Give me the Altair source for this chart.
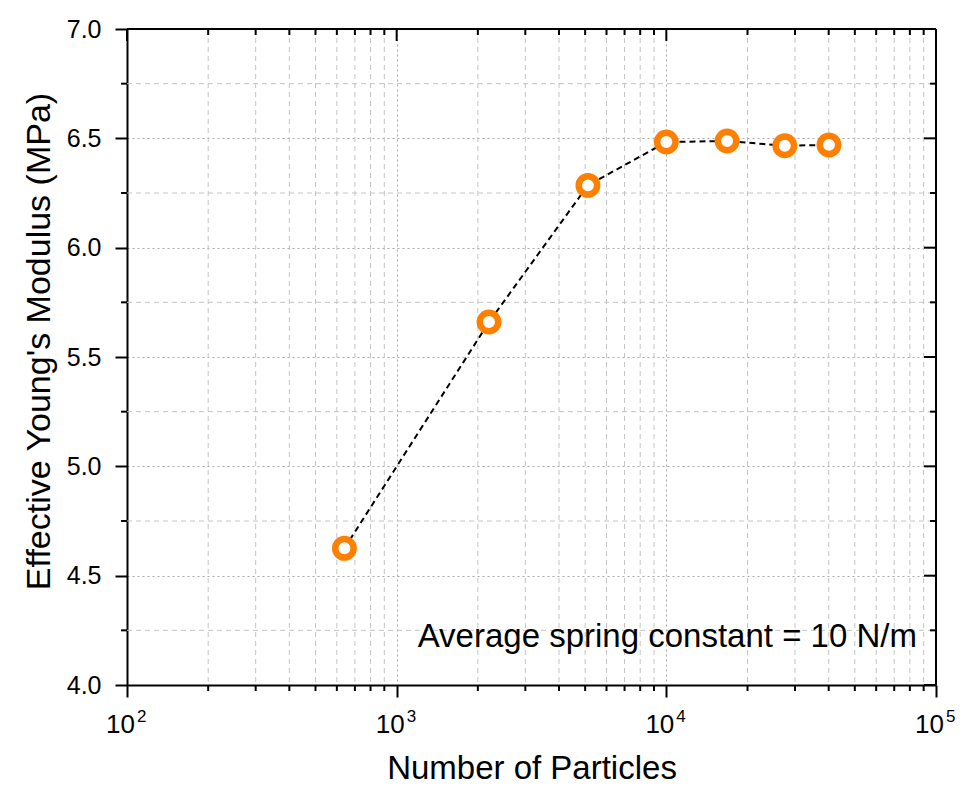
import altair as alt
import pandas as pd

# data
particles = [640, 2200, 5120, 10000, 16800, 27500, 40100]
modulus = [4.625, 5.66, 6.285, 6.483, 6.488, 6.466, 6.470]

x_major = [100, 1000, 10000, 100000]
x_major_base = ["10", "10", "10", "10"]
x_major_exp = ["2", "3", "4", "5"]
x_minor = [m * 10 ** e for e in (2, 3, 4) for m in range(2, 10)]
y_major = [4.0, 4.5, 5.0, 5.5, 6.0, 6.5, 7.0]
y_minor = [4.25, 4.75, 5.25, 5.75, 6.25, 6.75]

annot_text = ["Average spring constant = 10 N/m"]
annot_x = [85000]
annot_y = [4.22]

W, H = 809, 656
FONT = "Liberation Sans"

df = pd.DataFrame({"x": particles, "y": modulus})
dxmin = pd.DataFrame({"x": x_minor})
dxmaj = pd.DataFrame({"x": x_major, "b": x_major_base, "e": x_major_exp})
dymin = pd.DataFrame({"y": y_minor})
dymaj = pd.DataFrame({"y": y_major})
dann = pd.DataFrame({"t": annot_text, "x": annot_x, "y": annot_y})

xscale = alt.Scale(type="log", domain=[100, 100000], nice=False)
yscale = alt.Scale(domain=[4.0, 7.0], nice=False, zero=False)

xaxis = alt.Axis(values=x_major, labels=False, title="Number of Particles",
                 grid=True, gridDash=[2, 3], gridColor="#a8a8a8", gridWidth=1,
                 tickSize=12, tickWidth=2, tickColor="black",
                 domainColor="black", domainWidth=2,
                 titleFont=FONT, titleFontSize=33, titleFontWeight="normal",
                 titleColor="black", titlePadding=54)
yaxis = alt.Axis(values=y_major, format=".1f", title="Effective Young's Modulus (MPa)",
                 grid=True, gridDash=[2, 3], gridColor="#a8a8a8", gridWidth=1,
                 tickSize=12, tickWidth=2, tickColor="black",
                 domainColor="black", domainWidth=2,
                 labelFont=FONT, labelFontSize=25, labelColor="black", labelPadding=14,
                 titleFont=FONT, titleFontSize=34, titleFontWeight="normal",
                 titleColor="black", titlePadding=10, titleY=312)

X = lambda: alt.X("x:Q", scale=xscale, axis=xaxis)
Y = lambda: alt.Y("y:Q", scale=yscale, axis=yaxis)

minor_v = alt.Chart(dxmin).mark_rule(color="#c4c4c4", strokeDash=[5, 4], strokeWidth=1).encode(
    x=X(), y=alt.value(0), y2=alt.value(H))
minor_h = alt.Chart(dymin).mark_rule(color="#c4c4c4", strokeDash=[5, 4], strokeWidth=1).encode(
    y=Y(), x=alt.value(0), x2=alt.value(W))

# minor ticks outward on bottom/left
bt_minor = alt.Chart(dxmin).mark_rule(color="black", strokeWidth=2).encode(
    x=X(), y=alt.value(H), y2=alt.value(H + 6))
lt_minor = alt.Chart(dymin).mark_rule(color="black", strokeWidth=2).encode(
    y=Y(), x=alt.value(-6), x2=alt.value(0))

# frame top/right with inward ticks
top_line = alt.Chart(dxmaj).mark_rule(color="black", strokeWidth=2).encode(
    x=alt.value(0), x2=alt.value(W), y=alt.value(0))
right_line = alt.Chart(dymaj).mark_rule(color="black", strokeWidth=2).encode(
    y=alt.value(0), y2=alt.value(H), x=alt.value(W))
top_major = alt.Chart(dxmaj).mark_rule(color="black", strokeWidth=2).encode(
    x=X(), y=alt.value(0), y2=alt.value(12))
top_minor = alt.Chart(dxmin).mark_rule(color="black", strokeWidth=2).encode(
    x=X(), y=alt.value(0), y2=alt.value(6))
right_major = alt.Chart(dymaj).mark_rule(color="black", strokeWidth=2).encode(
    y=Y(), x=alt.value(W - 12), x2=alt.value(W))
right_minor = alt.Chart(dymin).mark_rule(color="black", strokeWidth=2).encode(
    y=Y(), x=alt.value(W - 6), x2=alt.value(W))

# x tick labels with real superscripts
xl_base = alt.Chart(dxmaj).mark_text(font=FONT, fontSize=26, align="right", baseline="alphabetic",
                                     dx=8, color="black").encode(
    x=X(), y=alt.value(H + 48), text="b:N")
xl_exp = alt.Chart(dxmaj).mark_text(font=FONT, fontSize=17, align="left", baseline="alphabetic",
                                    dx=10, color="black").encode(
    x=X(), y=alt.value(H + 37), text="e:N")

line = alt.Chart(df).mark_line(color="black", strokeDash=[6, 4], strokeWidth=2).encode(
    x=X(), y=Y())
points = alt.Chart(df).mark_point(shape="circle", filled=False, fill="white", fillOpacity=1,
                                  stroke="#FF8000", strokeWidth=6.5, size=340, opacity=1).encode(
    x=X(), y=Y())

annot = alt.Chart(dann).mark_text(font=FONT, fontSize=33, align="right", baseline="middle",
                                  color="black").encode(
    x=X(), y=Y(), text="t:N")

chart = alt.layer(minor_v, minor_h, bt_minor, lt_minor, top_minor, top_major,
                  right_minor, right_major, top_line, right_line, xl_base, xl_exp,
                  line, points, annot).properties(
    width=W, height=H,
    autosize=alt.AutoSizeParams(type="none"),
    padding={"left": 119, "top": 21, "right": 20, "bottom": 102},
).configure_view(stroke=None).configure(background="white")

chart.save("out.html", embed_options={"renderer": "svg", "actions": False})
